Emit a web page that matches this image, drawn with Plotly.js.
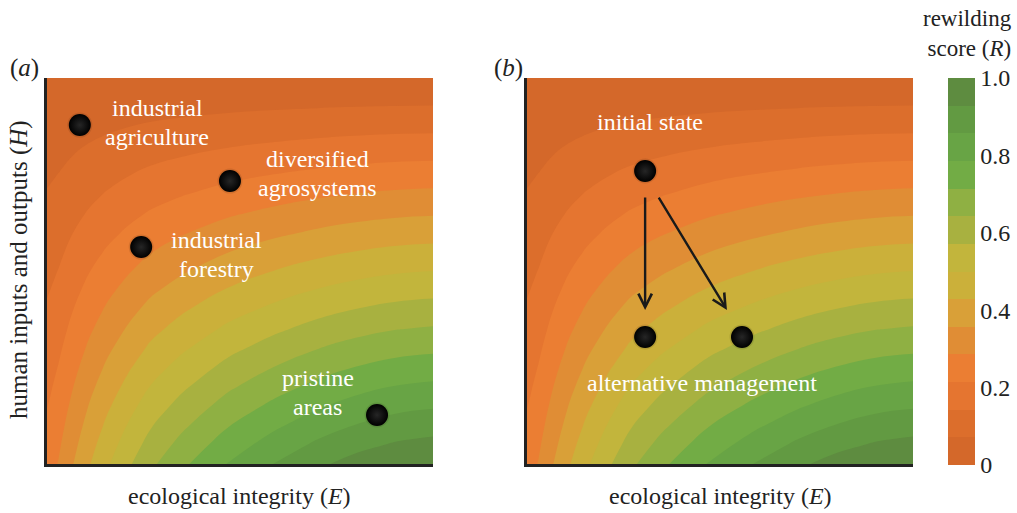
<!DOCTYPE html>
<html><head><meta charset="utf-8">
<script src="https://cdn.plot.ly/plotly-3.0.1.min.js"></script>
<style>html,body{margin:0;padding:0;background:#fff}#chart{width:1017px;height:513px}</style>
</head><body><div id="chart"></div>
<script>
// Ecological integrity (E) grid and rewilding score read along the bottom edge (H = 0)
const ecologicalIntegrity = [0, 0.01, 0.03, 0.067, 0.11, 0.155, 0.21, 0.27, 0.35, 0.47, 0.59, 0.7, 0.8, 0.9, 1.0];
const scoreAtNoHumanInput = [0.25, 0.262, 0.29, 0.355, 0.425, 0.49, 0.56, 0.63, 0.70, 0.79, 0.86, 0.915, 0.955, 0.985, 1.0];
// Human inputs (H) grid and relative score read along the right edge (E = 1)
const humanInputs = [0, 0.05, 0.1, 0.15, 0.2, 0.25, 0.3, 0.35, 0.4, 0.45, 0.5, 0.55, 0.6, 0.65, 0.7, 0.75, 0.8, 0.85, 0.9, 0.95, 1.0];
const scoreAtFullIntegrity = [1.0, 0.95, 0.9, 0.85, 0.8, 0.75, 0.7, 0.65, 0.6, 0.55, 0.5, 0.45, 0.4, 0.35, 0.3, 0.25, 0.2, 0.15, 0.1, 0.05, 0];

// Colour bands of the rewilding score (14 steps, low -> high)
const bandColors = ['#D4682A','#DC6E2C','#E57530','#EB7E33','#E08D35','#D9A038','#CBB03A',
                    '#C2B53C','#A8B140','#8FB043','#72AC45','#68A445','#629A42','#5E8C40'];
const colorbarTickVals = [0, 0.2, 0.4, 0.6, 0.8, 1.0];
const colorbarTickText = ['0', '0.2', '0.4', '0.6', '0.8', '1.0'];

// Panel (a) systems
const sysA_E = [0.085, 0.474, 0.244, 0.855];
const sysA_H = [0.878, 0.733, 0.562, 0.127];
const sysA_names = ['industrial<br>agriculture', 'diversified<br>agrosystems', 'industrial<br>forestry', 'pristine<br>areas'];
// Panel (b) states
const sysB_E = [0.306, 0.306, 0.557];
const sysB_H = [0.759, 0.329, 0.329];
const sysB_names = ['initial state', 'alternative management'];

// Build the score table from the two edge profiles
const zGrid = scoreAtFullIntegrity.map(w => scoreAtNoHumanInput.map(g => w * g));

const nb = bandColors.length;
const colorscale = [];
bandColors.forEach((c, i) => { colorscale.push([i / nb, c]); colorscale.push([(i + 1) / nb, c]); });

const SERIF = '"Liberation Serif", "Times New Roman", serif';

function contourTrace(xa, ya, showScale) {
  return {
    type: 'contour', x: ecologicalIntegrity, y: humanInputs, z: zGrid,
    xaxis: xa, yaxis: ya, zmin: 0, zmax: 1, autocontour: false,
    contours: {start: 1 / nb, end: (nb - 1) / nb + 1e-9, size: 1 / nb, coloring: 'fill', showlines: false},
    line: {width: 0, smoothing: 1.3},
    colorscale: colorscale, showscale: showScale, hoverinfo: 'skip',
    colorbar: {
      x: 948 / 1017, xanchor: 'left', xpad: 0, ypad: 0, y: 1 - 271.5 / 513, yanchor: 'middle',
      len: 387 / 513, lenmode: 'fraction', thickness: 27, outlinewidth: 0,
      ticks: '', tickvals: colorbarTickVals, ticktext: colorbarTickText,
      tickfont: {family: SERIF, size: 24, color: '#222'}
    }
  };
}

function dots(xs, ys, xa, ya) {
  return [
    {type: 'scatter', mode: 'markers', x: xs, y: ys, xaxis: xa, yaxis: ya, hoverinfo: 'skip',
     marker: {size: 25, color: 'rgba(0,0,0,0.10)', line: {width: 0}}},
    {type: 'scatter', mode: 'markers', x: xs, y: ys, xaxis: xa, yaxis: ya, hoverinfo: 'skip',
     marker: {size: 22, color: '#000', gradient: {type: 'radial', color: '#262626'}, line: {width: 0}}}
  ];
}

const data = [contourTrace('x', 'y', false), contourTrace('x2', 'y2', true)]
  .concat(dots(sysA_E, sysA_H, 'x', 'y'))
  .concat(dots(sysB_E, sysB_H, 'x2', 'y2'));

const axisBase = {range: [0, 1], showgrid: false, zeroline: false, showticklabels: false, ticks: '',
                  showline: true, linewidth: 3, linecolor: '#222', fixedrange: true};
const yDom = [1 - 464 / 513, 1 - 78 / 513];

const white = (s) => ({family: SERIF, size: s, color: '#fff'});
const dark = (s) => ({family: SERIF, size: s, color: '#222'});

const annotations = [];
function whiteLabel(xa, ya, x, y, text) {
  const lines = text.split('<br>');
  lines.forEach((ln, k) => annotations.push({xref: xa, yref: ya, x: x, y: y, text: ln, showarrow: false,
    font: white(24), xanchor: 'center', yanchor: 'middle', yshift: (lines.length - 1) * 14.5 - k * 29}));
}
const labelPosA = [[0.285, 0.886], [0.70, 0.753], [0.438, 0.544], [0.702, 0.185]];
sysA_names.forEach((t, i) => whiteLabel('x', 'y', labelPosA[i][0], labelPosA[i][1], t));
whiteLabel('x2', 'y2', 0.319, 0.886, sysB_names[0]);
whiteLabel('x2', 'y2', 0.453, 0.21, sysB_names[1]);
// arrows from initial state to alternative management
annotations.push({xref: 'x2', yref: 'y2', axref: 'x2', ayref: 'y2', x: 0.306, y: 0.399, ax: 0.306, ay: 0.694,
  text: '', showarrow: true, arrowhead: 5, arrowsize: 1.1, arrowwidth: 2.4, arrowcolor: '#1a1a1a'});
annotations.push({xref: 'x2', yref: 'y2', axref: 'x2', ayref: 'y2', x: 0.518, y: 0.399, ax: 0.339, ay: 0.694,
  text: '', showarrow: true, arrowhead: 5, arrowsize: 1.1, arrowwidth: 2.4, arrowcolor: '#1a1a1a'});
// panel letters
annotations.push({xref: 'paper', yref: 'paper', x: 24 / 1017, y: 1 - 68 / 513, text: '(<i>a</i>)', showarrow: false,
  font: dark(25), xanchor: 'center', yanchor: 'middle'});
annotations.push({xref: 'paper', yref: 'paper', x: 508 / 1017, y: 1 - 68 / 513, text: '(<i>b</i>)', showarrow: false,
  font: dark(25), xanchor: 'center', yanchor: 'middle'});
// axis titles
annotations.push({xref: 'paper', yref: 'paper', x: 239 / 1017, y: 1 - 496 / 513, text: 'ecological integrity (<i>E</i>)',
  showarrow: false, font: dark(24), xanchor: 'center', yanchor: 'middle'});
annotations.push({xref: 'paper', yref: 'paper', x: 720 / 1017, y: 1 - 496 / 513, text: 'ecological integrity (<i>E</i>)',
  showarrow: false, font: dark(24), xanchor: 'center', yanchor: 'middle'});
annotations.push({xref: 'paper', yref: 'paper', x: 19 / 1017, y: 1 - 270 / 513, text: 'human inputs and outputs (<i>H</i>)',
  showarrow: false, font: dark(25), xanchor: 'center', yanchor: 'middle', textangle: -90});
// colorbar title
annotations.push({xref: 'paper', yref: 'paper', x: 1014 / 1017, y: 1 - 33 / 513, text: 'rewilding<br>score (<i>R</i>)',
  showarrow: false, font: dark(23), xanchor: 'right', yanchor: 'middle', align: 'right'});

const layout = {
  width: 1017, height: 513, margin: {l: 0, r: 0, t: 0, b: 0},
  paper_bgcolor: '#fff', plot_bgcolor: '#fff', showlegend: false,
  xaxis: Object.assign({}, axisBase, {domain: [47 / 1017, 433 / 1017], anchor: 'y'}),
  yaxis: Object.assign({}, axisBase, {domain: yDom, anchor: 'x'}),
  xaxis2: Object.assign({}, axisBase, {domain: [527 / 1017, 913 / 1017], anchor: 'y2'}),
  yaxis2: Object.assign({}, axisBase, {domain: yDom, anchor: 'x2'}),
  annotations: annotations
};

Plotly.newPlot('chart', data, layout, {staticPlot: true, displayModeBar: false});
</script></body></html>
